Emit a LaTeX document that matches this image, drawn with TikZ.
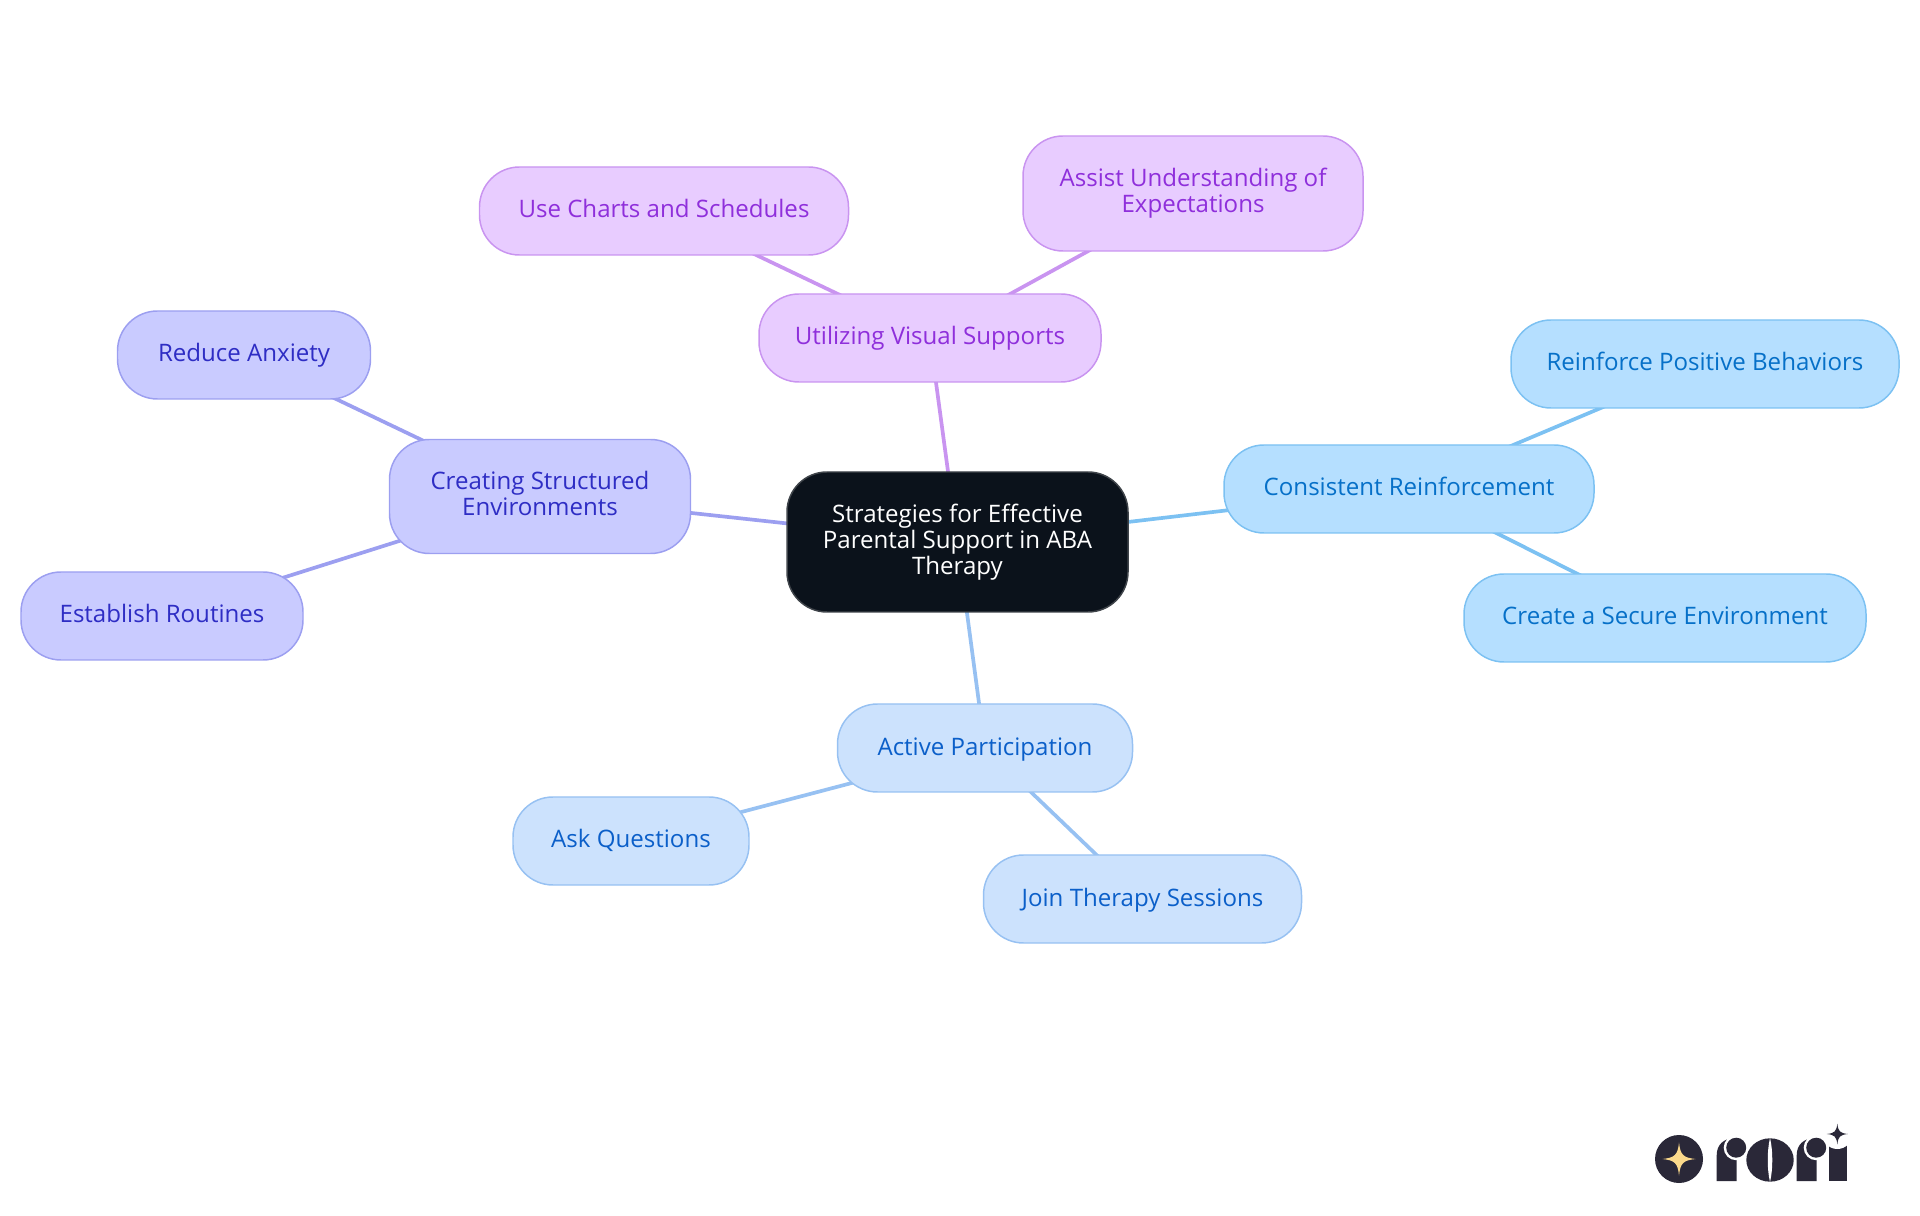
\documentclass[tikz,border=0pt]{standalone}
\usepackage{fontspec}
\usepackage{tikz}
\usetikzlibrary{backgrounds}
\setmainfont{Open Sans}

\definecolor{root_fill}{HTML}{0B121B}
\definecolor{root_line}{HTML}{3F444A}
\definecolor{purple_fill}{HTML}{E8CCFF}
\definecolor{purple_line}{HTML}{C994F0}
\definecolor{purple_text}{HTML}{8F2FDB}
\definecolor{indigo_fill}{HTML}{C9CBFF}
\definecolor{indigo_line}{HTML}{9C9FF0}
\definecolor{indigo_text}{HTML}{2E2DC4}
\definecolor{blue_fill}{HTML}{CCE2FD}
\definecolor{blue_line}{HTML}{97C1F2}
\definecolor{blue_text}{HTML}{0B5FC9}
\definecolor{sky_fill}{HTML}{B5DFFF}
\definecolor{sky_line}{HTML}{7CC1F2}
\definecolor{sky_text}{HTML}{0670C8}
\definecolor{logo_dark}{HTML}{2A2838}
\definecolor{logo_gold}{HTML}{FBD98B}

\begin{document}
\begin{tikzpicture}[
	main_node/.style={rounded corners=0.40cm,draw,line width=0.42pt,inner sep=0pt,align=center,minimum height=0.88cm,font=\fontsize{6.85}{7.4}\selectfont},
	line_node/.style={text height=0.21cm,text depth=0.07cm},
	root_node/.style={main_node,fill=root_fill,draw=root_line,text=white,minimum height=1.4cm},
	purple_node/.style={main_node,fill=purple_fill,draw=purple_line,text=purple_text},
	indigo_node/.style={main_node,fill=indigo_fill,draw=indigo_line,text=indigo_text},
	blue_node/.style={main_node,fill=blue_fill,draw=blue_line,text=blue_text},
	sky_node/.style={main_node,fill=sky_fill,draw=sky_line,text=sky_text},
	main_edge/.style={line width=1.05pt},
	sparkle/.pic={\fill (1,0) .. controls (0.25,0.08) and (0.08,0.25) .. (0,1) .. controls (-0.08,0.25) and (-0.25,0.08) .. (-1,0) .. controls (-0.25,-0.08) and (-0.08,-0.25) .. (0,-1) .. controls (0.08,-0.25) and (0.25,-0.08) .. (1,0);}
]

	\useasboundingbox (0,0) rectangle (19.2,12.15);

	\node[root_node,minimum width=3.41cm] (1) at (9.575,6.73) {Strategies for Effective\\Parental Support in ABA\\Therapy};

	\node[purple_node,line_node,minimum width=3.42cm] (2) at (9.30,8.77) {Utilizing Visual Supports};
	\node[purple_node,line_node,minimum width=3.69cm] (3) at (6.64,10.04) {Use Charts and Schedules};
	\node[purple_node,minimum width=3.40cm,minimum height=1.15cm] (4) at (11.93,10.215) {Assist Understanding of\\Expectations};

	\node[sky_node,line_node,minimum width=3.70cm] (5) at (14.09,7.26) {Consistent Reinforcement};
	\node[sky_node,line_node,minimum width=3.88cm] (6) at (17.05,8.51) {Reinforce Positive Behaviors};
	\node[sky_node,line_node,minimum width=4.02cm] (7) at (16.65,5.97) {Create a Secure Environment};

	\node[indigo_node,minimum width=3.01cm,minimum height=1.14cm] (8) at (5.40,7.185) {Creating Structured\\Environments\vphantom{p}};
	\node[indigo_node,line_node,minimum width=2.53cm] (9) at (2.44,8.60) {Reduce Anxiety};
	\node[indigo_node,line_node,minimum width=2.82cm] (10) at (1.62,5.99) {Establish Routines};

	\node[blue_node,line_node,minimum width=2.95cm] (11) at (9.85,4.67) {Active Participation};
	\node[blue_node,line_node,minimum width=2.36cm] (12) at (6.31,3.74) {Ask Questions};
	\node[blue_node,line_node,minimum width=3.18cm] (13) at (11.425,3.16) {Join Therapy Sessions};

	\begin{scope}[on background layer]
		\draw[main_edge,purple_line] (1.center) -- (2.center);
		\draw[main_edge,purple_line] (2.center) -- (3.center);
		\draw[main_edge,purple_line] (2.center) -- (4.center);
		\draw[main_edge,sky_line] (1.center) -- (5.center);
		\draw[main_edge,sky_line] (5.center) -- (6.center);
		\draw[main_edge,sky_line] (5.center) -- (7.center);
		\draw[main_edge,indigo_line] (1.center) -- (8.center);
		\draw[main_edge,indigo_line] (8.center) -- (9.center);
		\draw[main_edge,indigo_line] (8.center) -- (10.center);
		\draw[main_edge,blue_line] (1.center) -- (11.center);
		\draw[main_edge,blue_line] (11.center) -- (12.center);
		\draw[main_edge,blue_line] (11.center) -- (13.center);
	\end{scope}

	\fill[logo_dark] (16.79,0.56) circle (0.24);
	\pic[scale=0.165,fill=logo_gold] at (16.79,0.56) {sparkle};

	\foreach \x in {17.167,17.967} {
		\fill[logo_dark] (\x,0.34) -- (\x,0.60) .. controls (\x,0.70) and (\x+0.07,0.767) .. (\x+0.17,0.767) -- (\x+0.2,0.767) -- (\x+0.2,0.34) -- cycle;
		\fill[white] (\x+0.195,0.673) circle (0.125);
		\fill[logo_dark] (\x+0.195,0.673) circle (0.10);
	}

	\fill[logo_dark] (17.70,0.55) ellipse (0.237 and 0.217);
	\fill[white] (17.70,0.77) .. controls (17.67,0.65) and (17.67,0.45) .. (17.70,0.33) .. controls (17.73,0.45) and (17.73,0.65) .. (17.70,0.77);

	\fill[logo_dark] (18.29,0.34) rectangle (18.467,0.72);
	\fill[white] (18.373,0.81) circle (0.15);
	\pic[scale=0.105,fill=logo_dark] at (18.373,0.81) {sparkle};

\end{tikzpicture}
\end{document}
